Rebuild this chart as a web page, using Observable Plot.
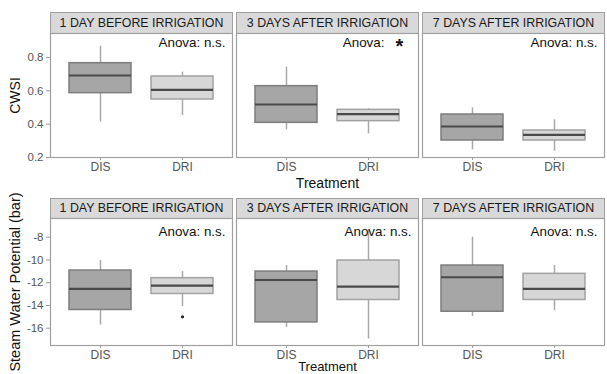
<!DOCTYPE html>
<html><head><meta charset="utf-8">
<script src="https://cdn.jsdelivr.net/npm/d3@7"></script>
<script src="https://cdn.jsdelivr.net/npm/@observablehq/plot@0.6"></script>
<style>
body{margin:0;background:#fff;width:607px;height:374px;overflow:hidden;position:relative;font-family:"Liberation Sans",Arial,sans-serif}
#top{position:absolute;left:0;top:0}
#bot{position:absolute;left:0;top:188px}
</style></head><body><div id="top"></div><div id="bot"></div>
<script>
const periods = ["1 DAY BEFORE IRRIGATION", "3 DAYS AFTER IRRIGATION", "7 DAYS AFTER IRRIGATION"];
const treatments = ["DIS", "DRI"];

// order: period1 DIS, period1 DRI, period2 DIS, period2 DRI, period3 DIS, period3 DRI
const cwsiWhiskerLow  = [0.412, 0.452, 0.366, 0.342, 0.246, 0.238];
const cwsiQ1          = [0.586, 0.548, 0.408, 0.418, 0.302, 0.302];
const cwsiMedian      = [0.692, 0.606, 0.518, 0.460, 0.386, 0.336];
const cwsiQ3          = [0.766, 0.686, 0.628, 0.486, 0.458, 0.362];
const cwsiWhiskerHigh = [0.868, 0.712, 0.742, 0.492, 0.498, 0.426];
const cwsiAnova = ["n.s.", "*", "n.s."];
const cwsiTicks = [0.2, 0.4, 0.6, 0.8];

const swpWhiskerLow  = [-15.72, -14.08, -15.93, -16.95, -14.96, -14.46];
const swpQ1          = [-14.40, -12.99, -15.49, -13.52, -14.55, -13.52];
const swpMedian      = [-12.55, -12.26, -11.76, -12.34, -11.52, -12.55];
const swpQ3          = [-10.93, -11.60, -11.02, -10.05, -10.49, -11.22];
const swpWhiskerHigh = [-10.05, -11.02, -10.49, -7.40, -8.00, -10.49];
const swpOutlierPeriod = ["1 DAY BEFORE IRRIGATION"];
const swpOutlierTreatment = ["DRI"];
const swpOutlierValue = [-15.0];
const swpAnova = ["n.s.", "n.s.", "n.s."];
const swpTicks = [-16, -14, -12, -10, -8];

const boxFill = {DIS: "#a6a6a6", DRI: "#d7d7d7"};
const boxStroke = {DIS: "#7d7d7d", DRI: "#a2a2a2"};

function rowsOf(lo, q1, med, q3, hi) {
  return periods.flatMap((p, i) => treatments.map((t, j) => ({
    period: p, treatment: t,
    lo: lo[2 * i + j], q1: q1[2 * i + j], med: med[2 * i + j], q3: q3[2 * i + j], hi: hi[2 * i + j]
  })));
}

function makeRow(cfg) {
  const innerH = cfg.height - cfg.mt - cfg.mb;
  const anovaRows = periods.map((p, i) => ({period: p, sig: cfg.anova[i]}));
  const marks = [
    Plot.frame({fill: "#d9d9d9", stroke: "#a0a0a0", insetTop: -cfg.stripH, insetBottom: innerH}),
    Plot.text(periods, {fx: d => d, text: d => d, frameAnchor: "top", dy: -cfg.stripH / 2, lineAnchor: "middle", textAnchor: "middle", fontSize: 12.4, fill: "#1a1a1a"}),
    Plot.ruleX(cfg.rows, {fx: "period", x: "treatment", y1: "lo", y2: "q1", stroke: "#a9a9a9", strokeWidth: 1.5}),
    Plot.ruleX(cfg.rows, {fx: "period", x: "treatment", y1: "q3", y2: "hi", stroke: "#a9a9a9", strokeWidth: 1.5}),
    Plot.barY(cfg.rows, {fx: "period", x: "treatment", y1: "q1", y2: "q3", fill: d => boxFill[d.treatment], stroke: d => boxStroke[d.treatment], strokeWidth: 1.5}),
    Plot.tickY(cfg.rows, {fx: "period", x: "treatment", y: "med", stroke: "#4a4a4a", strokeWidth: 2.2}),
    Plot.dot(cfg.outliers, {fx: "period", x: "treatment", y: "value", r: 1.6, fill: "#222", stroke: null}),
    Plot.text(anovaRows.filter(d => d.sig !== "*"), {fx: "period", text: d => "Anova: " + d.sig, frameAnchor: "top-right", textAnchor: "end", lineAnchor: "middle", dx: -7, dy: cfg.anovaDy, fontSize: 13.4, fill: "#111"}),
    Plot.text(anovaRows.filter(d => d.sig === "*"), {fx: "period", text: () => "Anova:", frameAnchor: "top-right", textAnchor: "end", lineAnchor: "middle", dx: -34, dy: cfg.anovaDy, fontSize: 13.4, fill: "#111"}),
    Plot.text(anovaRows.filter(d => d.sig === "*"), {fx: "period", text: "sig", frameAnchor: "top-right", textAnchor: "middle", lineAnchor: "middle", dx: -19, dy: cfg.anovaDy + 4, fontSize: 20, fontWeight: "bold", fill: "#111"}),
    Plot.text([cfg.yLabel], {fx: () => periods[0], text: d => d, frameAnchor: "left", rotate: -90, textAnchor: "middle", lineAnchor: "middle", dx: -35, fontSize: cfg.yLabelSize, fill: "#111"}),
    Plot.text(["Treatment"], {fx: () => periods[1], text: d => d, frameAnchor: "bottom", textAnchor: "middle", lineAnchor: "middle", dy: cfg.xLabelDy, fontSize: cfg.xLabelSize, fill: "#111"}),
    Plot.axisX({tickSize: 3, tickPadding: 2, stroke: "#9a9a9a", fill: "#555", fontSize: 12, label: null}),
    Plot.axisY({ticks: cfg.ticks, tickFormat: d => String(d), tickSize: 4, tickPadding: 3, stroke: "#9a9a9a", fill: "#555", fontSize: 11.5, label: null}),
    Plot.frame({stroke: "#a0a0a0", strokeWidth: 1.2})
  ];
  return Plot.plot({
    width: 607, height: cfg.height,
    marginTop: cfg.mt, marginBottom: cfg.mb, marginLeft: 49, marginRight: 2,
    style: {fontFamily: "'Liberation Sans', Arial, sans-serif", fontSize: "11px", background: "transparent", overflow: "visible"},
    fx: {domain: periods, paddingInner: 0.022, paddingOuter: 0, axis: null, label: null},
    x: {type: "band", domain: treatments, paddingInner: 0.25, paddingOuter: 0.225, label: null},
    y: {domain: cfg.yDomain, label: null},
    color: {type: "identity"},
    marks
  });
}

const cwsiRows = rowsOf(cwsiWhiskerLow, cwsiQ1, cwsiMedian, cwsiQ3, cwsiWhiskerHigh);
const swpRows = rowsOf(swpWhiskerLow, swpQ1, swpMedian, swpQ3, swpWhiskerHigh);
const swpOutliers = swpOutlierValue.map((v, i) => ({period: swpOutlierPeriod[i], treatment: swpOutlierTreatment[i], value: v}));

document.getElementById("top").append(makeRow({
  height: 188, mt: 33, mb: 31, stripH: 21, yDomain: [0.2, 0.944], ticks: cwsiTicks,
  rows: cwsiRows, outliers: [], anova: cwsiAnova, anovaDy: 9, yLabel: "CWSI", yLabelSize: 14,
  xLabelDy: 26, xLabelSize: 14
}));
document.getElementById("bot").append(makeRow({
  height: 186, mt: 30, mb: 29, stripH: 20, yDomain: [-17.52, -6.356], ticks: swpTicks,
  rows: swpRows, outliers: swpOutliers, anova: swpAnova, anovaDy: 13, yLabel: "Steam Water Potential (bar)", yLabelSize: 14.5,
  xLabelDy: 21, xLabelSize: 13
}));
</script></body></html>
